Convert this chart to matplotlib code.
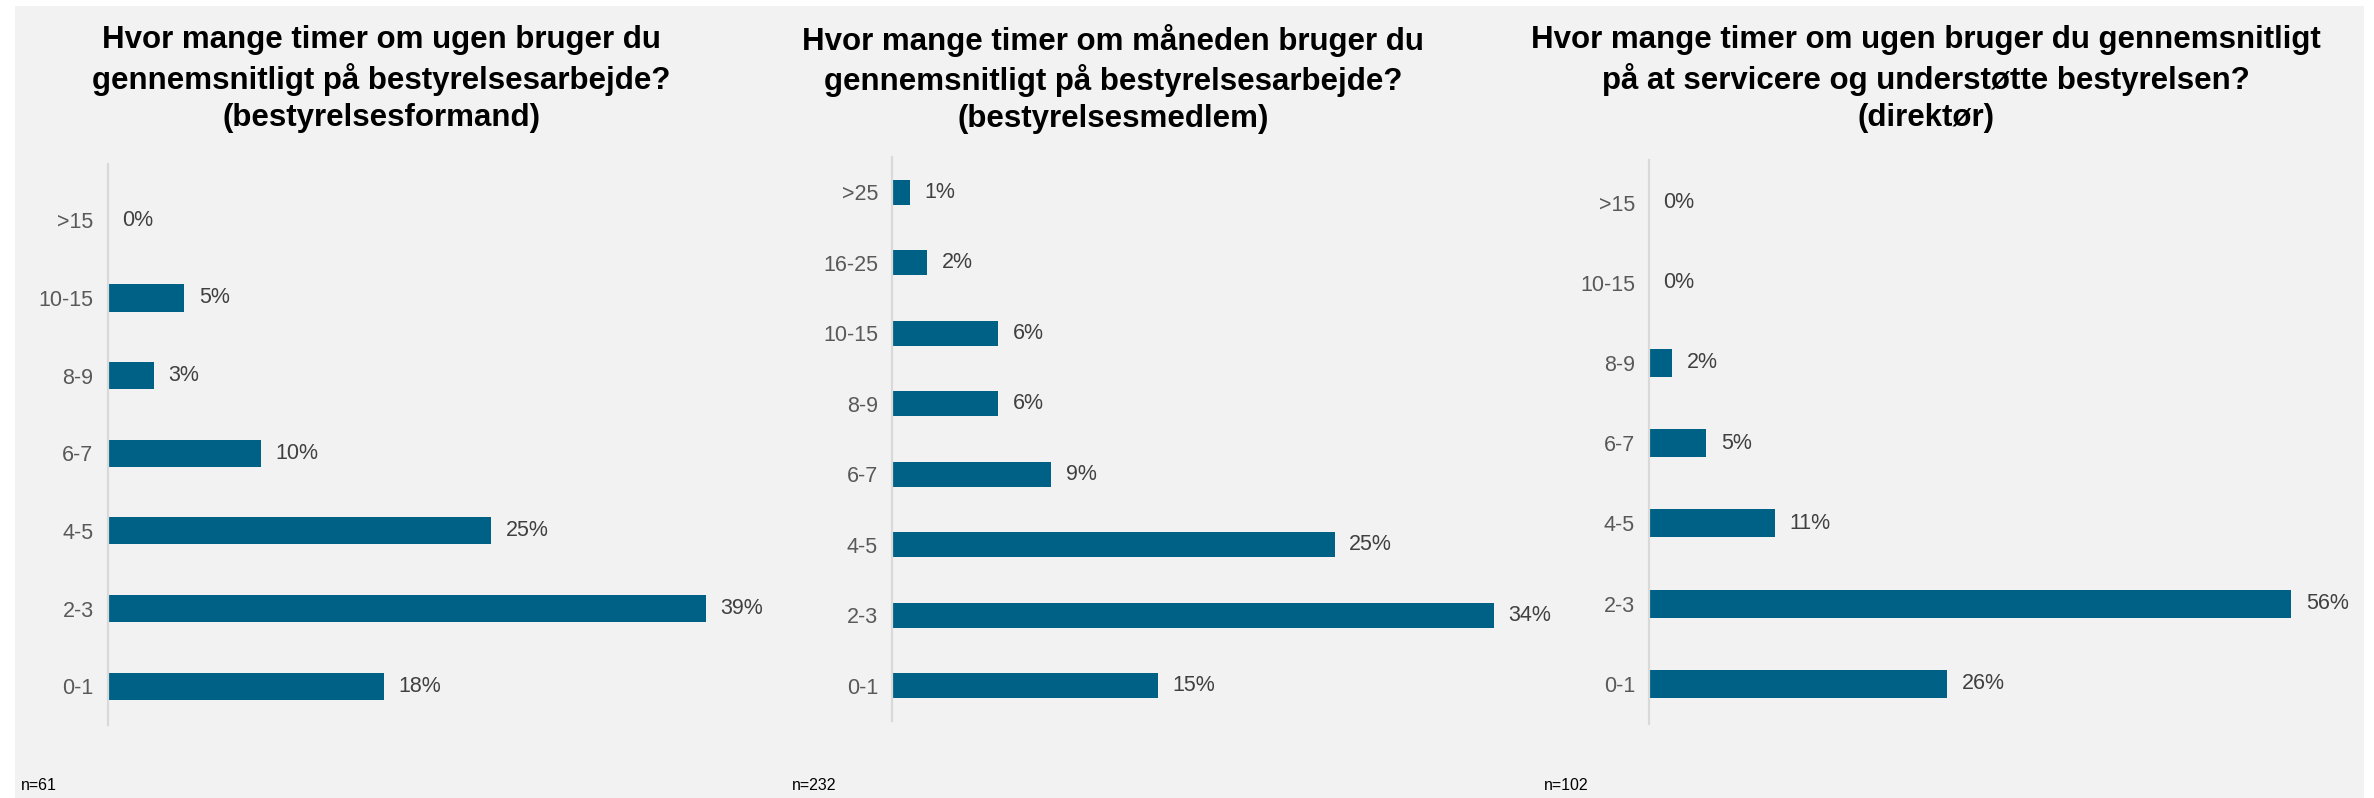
import matplotlib
matplotlib.use("Agg")
import matplotlib.pyplot as plt
from matplotlib.patches import Rectangle

# Survey results: share of respondents per time bracket
cats_formand = ["0-1", "2-3", "4-5", "6-7", "8-9", "10-15", ">15"]
vals_formand = [18, 39, 25, 10, 3, 5, 0]

cats_medlem = ["0-1", "2-3", "4-5", "6-7", "8-9", "10-15", "16-25", ">25"]
vals_medlem = [15, 34, 25, 9, 6, 6, 2, 1]

cats_direktor = ["0-1", "2-3", "4-5", "6-7", "8-9", "10-15", ">15"]
vals_direktor = [26, 56, 11, 5, 2, 0, 0]

titles = [
    "Hvor mange timer om ugen bruger du\ngennemsnitligt på bestyrelsesarbejde?\n(bestyrelsesformand)",
    "Hvor mange timer om måneden bruger du\ngennemsnitligt på bestyrelsesarbejde?\n(bestyrelsesmedlem)",
    "Hvor mange timer om ugen bruger du gennemsnitligt\npå at servicere og understøtte bestyrelsen?\n(direktør)",
]
n_labels = ["n=61", "n=232", "n=102"]

BAR = "#006186"
BG = "#f2f2f2"
TICK_COL = "#595959"
LABEL_COL = "#404040"
FONT = "Liberation Sans"

W, H = 2374, 798
DPI = 100
fig = plt.figure(figsize=(W / DPI, H / DPI), dpi=DPI)
fig.patch.set_facecolor("white")

# grey backdrop panel, kept behind all axes
fig.patches.append(Rectangle((15 / W, 0), (2364 - 15) / W, (H - 6) / H,
                             transform=fig.transFigure, facecolor=BG,
                             edgecolor="none", zorder=-10))


def px_axes(x0, top, width, bottom):
    return [x0 / W, 1 - bottom / H, width / W, (bottom - top) / H]


# (categories, values, axes rect, x max, y top pad, title x, n-label x)
panels = [
    (cats_formand, vals_formand, px_axes(107.5, 164, 690, 725), 45, 0.725, 381, 21),
    (cats_medlem, vals_medlem, px_axes(892, 157, 708, 721), 40, 0.5, 1113, 792),
    (cats_direktor, vals_direktor, px_axes(1649, 160, 711, 724), 62, 0.53, 1926, 1544),
]

for (cats, vals, rect, xmax, top_pad, tx, nx), title, nlab in zip(panels, titles, n_labels):
    ax = fig.add_axes(rect)
    ax.set_facecolor("none")
    ax.set_zorder(1)
    y = list(range(len(cats)))
    ax.barh(y, vals, height=0.35, color=BAR, edgecolor="none")
    ax.set_xlim(0, xmax)
    ax.set_ylim(-0.5, len(cats) - 1 + top_pad)
    ax.set_yticks(y)
    ax.set_yticklabels(cats, fontsize=15.5, color=TICK_COL, family=FONT)
    ax.tick_params(axis="y", length=0, pad=10)
    ax.set_xticks([])
    for s in ["top", "right", "bottom"]:
        ax.spines[s].set_visible(False)
    ax.spines["left"].set_color("#d9d9d9")
    ax.spines["left"].set_linewidth(1.6)
    for yi, v in zip(y, vals):
        ax.annotate(f"{v}%", xy=(v, yi), xytext=(10.5, 0),
                    textcoords="offset points", va="center", ha="left",
                    fontsize=15.5, color=LABEL_COL, family=FONT)

    fig.text(tx / W, 1 - 79 / H, title, ha="center", va="center",
             fontsize=22.5, fontweight="bold", color="black", family=FONT,
             linespacing=1.3)
    fig.text(nx / W, 1 - 785 / H, nlab, ha="left", va="center",
             fontsize=11.5, color="black", family=FONT)

fig.savefig("out.png", dpi=DPI, facecolor=fig.get_facecolor())
